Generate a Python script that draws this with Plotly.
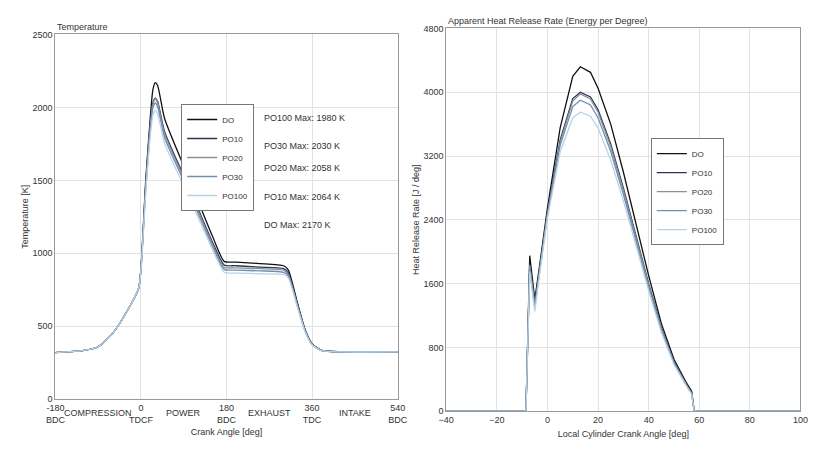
import plotly.graph_objects as go

names = ["DO", "PO10", "PO20", "PO30", "PO100"]
colors = ["#111111", "#2b3550", "#8a8f99", "#6f8fb0", "#b9d2e6"]

# temperature vs crank angle
t_x = [-180, -120, -90, -60, -30, -5, 0, 10, 20, 25, 30, 35, 50, 100, 150, 175, 200, 250, 300, 310, 330, 345, 360, 380, 420, 540]
t_do = [320, 335, 360, 450, 600, 760, 900, 1500, 1950, 2120, 2170, 2150, 1920, 1520, 1120, 945, 940, 930, 915, 885, 650, 480, 380, 335, 325, 325]
t_po10 = [320, 335, 360, 450, 600, 760, 895, 1470, 1900, 2030, 2064, 2040, 1830, 1460, 1080, 920, 915, 905, 895, 865, 640, 475, 378, 335, 325, 325]
t_po20 = [320, 335, 360, 450, 600, 760, 893, 1460, 1890, 2020, 2058, 2030, 1815, 1445, 1065, 905, 900, 895, 885, 855, 635, 472, 376, 334, 325, 325]
t_po30 = [320, 335, 360, 450, 600, 760, 890, 1440, 1860, 1995, 2030, 2005, 1790, 1425, 1050, 890, 885, 880, 870, 845, 630, 470, 375, 334, 325, 325]
t_po100 = [320, 335, 360, 450, 600, 760, 885, 1410, 1820, 1945, 1980, 1955, 1750, 1395, 1030, 870, 865, 860, 855, 830, 620, 465, 372, 333, 325, 325]
temps = [t_do, t_po10, t_po20, t_po30, t_po100]

# heat release rate
h_x = [-40, -8.6, -8.5, -7, -5, -3, 0, 5, 10, 13, 17, 20, 25, 30, 35, 40, 45, 50, 55, 57, 58, 100]
h_do = [0, 0, 0, 1950, 1400, 1850, 2550, 3550, 4200, 4320, 4250, 4050, 3600, 3000, 2350, 1700, 1100, 650, 350, 250, 0, 0]
h_po10 = [0, 0, 0, 1850, 1350, 1800, 2500, 3400, 3920, 4000, 3940, 3780, 3350, 2800, 2200, 1600, 1050, 620, 330, 230, 0, 0]
h_po20 = [0, 0, 0, 1830, 1330, 1790, 2480, 3370, 3890, 3980, 3915, 3750, 3320, 2770, 2180, 1580, 1040, 610, 325, 225, 0, 0]
h_po30 = [0, 0, 0, 1800, 1300, 1770, 2460, 3330, 3820, 3900, 3840, 3680, 3260, 2720, 2140, 1550, 1020, 600, 320, 220, 0, 0]
h_po100 = [0, 0, 0, 1750, 1250, 1740, 2420, 3250, 3680, 3750, 3700, 3550, 3150, 2640, 2080, 1510, 990, 585, 310, 210, 0, 0]
hrrs = [h_do, h_po10, h_po20, h_po30, h_po100]

max_labels = ["PO100 Max: 1980 K", "PO30 Max: 2030 K", "PO20 Max: 2058 K", "PO10 Max: 2064 K", "DO Max: 2170 K"]
phases = ["COMPRESSION", "POWER", "EXHAUST", "INTAKE"]
phase_x = [-90, 90, 270, 450]

fig = go.Figure()
for n, c, y in zip(names, colors, temps):
    fig.add_scatter(x=t_x, y=y, name=n, mode="lines", line=dict(color=c, width=1.3, shape="spline", smoothing=0.6),
                    xaxis="x", yaxis="y", legend="legend")
for n, c, y in zip(names, colors, hrrs):
    fig.add_scatter(x=h_x, y=y, name=n, mode="lines", line=dict(color=c, width=1.3),
                    xaxis="x2", yaxis="y2", legend="legend2")

f = dict(family="Liberation Sans Narrow, Arial Narrow, Liberation Sans", size=9, color="#333")
lf = dict(f, size=8)
ax = dict(showline=True, linecolor="#999", mirror=True, gridcolor="#e2e2e2", zeroline=False,
          ticks="", tickfont=f)

fig.update_layout(
    width=816, height=465, margin=dict(l=0, r=0, t=0, b=0),
    paper_bgcolor="white", plot_bgcolor="white", font=f,
    xaxis=dict(ax, domain=[0.047, 0.477], range=[-180, 540], tickvals=[-180, 0, 180, 360, 540],
               ticktext=["-180<br>BDC", "0<br>TDCF", "180<br>BDC", "360<br>TDC", "540<br>BDC"],
               anchor="y", title=dict(text="Crank Angle [deg]", font=f, standoff=4)),
    yaxis=dict(ax, domain=[0.151, 0.953], range=[0, 2500], dtick=500, anchor="x",
               title=dict(text="Temperature [K]", font=f, standoff=2)),
    xaxis2=dict(ax, domain=[0.538, 0.983], range=[-40, 100], dtick=20, anchor="y2",
                title=dict(text="Local Cylinder Crank Angle [deg]", font=f, standoff=6)),
    yaxis2=dict(ax, domain=[0.125, 0.966], range=[0, 4800], dtick=800, anchor="x2",
                title=dict(text="Heat Release Rate [J / deg]", font=f, standoff=2)),
    legend=dict(x=0.205, y=0.8, xanchor="left", yanchor="top", bgcolor="white",
                bordercolor="#777", borderwidth=1, font=lf, tracegroupgap=0, itemwidth=30),
    legend2=dict(x=0.795, y=0.725, xanchor="left", yanchor="top", bgcolor="white",
                 bordercolor="#777", borderwidth=1, font=lf, itemwidth=30),
    showlegend=True,
)

for i, t in enumerate(max_labels):
    fig.add_annotation(x=0.306, y=0.785 - i * 0.063, xref="paper", yref="paper", text=t,
                       showarrow=False, xanchor="left", font=f)
for t, px in zip(phases, phase_x):
    fig.add_annotation(x=px, y=0, xref="x", yref="paper", yanchor="bottom", text=t,
                       showarrow=False, font=f, yshift=0.151 * 465 - 22)
fig.add_annotation(x=0.047, y=0.953, xref="paper", yref="paper", text="Temperature",
                   showarrow=False, xanchor="left", yanchor="bottom", font=f)
fig.add_annotation(x=0.538, y=0.966, xref="paper", yref="paper",
                   text="Apparent Heat Release Rate (Energy per Degree)",
                   showarrow=False, xanchor="left", yanchor="bottom", font=f)

fig.write_html("out.html")
